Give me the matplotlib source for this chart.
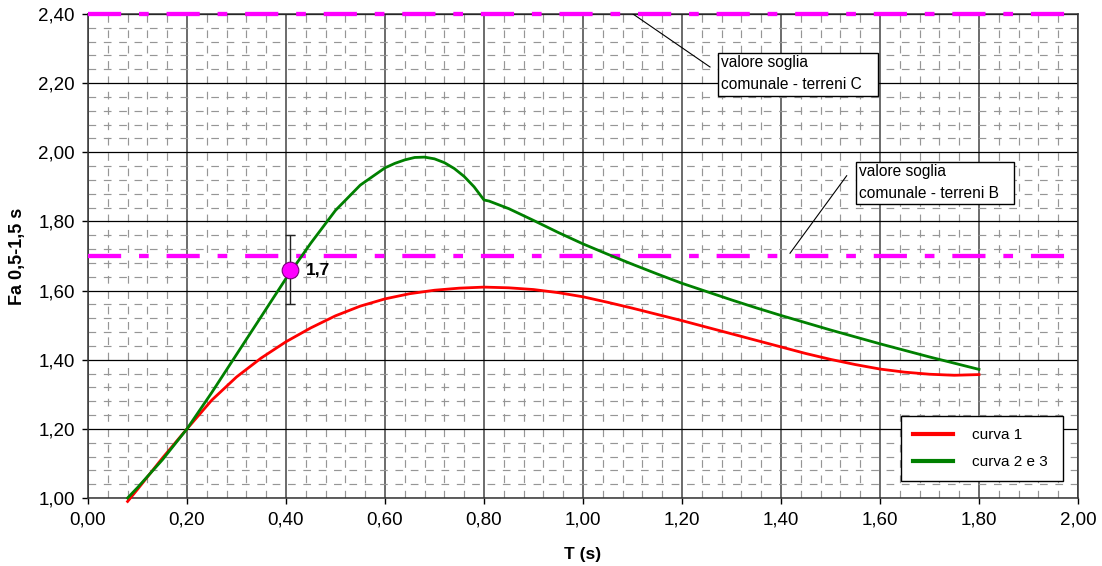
import numpy as np
import matplotlib
matplotlib.use("Agg")
import matplotlib.pyplot as plt
from matplotlib.ticker import MultipleLocator, FuncFormatter
from matplotlib.patches import Rectangle

plt.rcParams["font.family"] = ["Liberation Sans", "DejaVu Sans"]

# ── data ─────────────────────────────────────────────────────────────────────
T_RED = [0.08, 0.10, 0.15, 0.20, 0.25, 0.30, 0.35, 0.40, 0.45, 0.50, 0.55,
         0.60, 0.65, 0.70, 0.75, 0.80, 0.85, 0.90, 0.95, 1.00, 1.05, 1.10,
         1.15, 1.20, 1.25, 1.30, 1.35, 1.40, 1.45, 1.50, 1.55, 1.60, 1.65,
         1.70, 1.75, 1.80]
FA_RED = [0.99, 1.025, 1.115, 1.20, 1.283, 1.350, 1.405, 1.452, 1.492, 1.527,
          1.555, 1.576, 1.591, 1.601, 1.607, 1.610, 1.608, 1.603, 1.594,
          1.582, 1.566, 1.549, 1.531, 1.513, 1.494, 1.475, 1.456, 1.437,
          1.418, 1.401, 1.386, 1.373, 1.364, 1.358, 1.355, 1.357]

T_GREEN = [0.08, 0.10, 0.15, 0.20, 0.25, 0.30, 0.35, 0.40, 0.45, 0.50, 0.55,
           0.60, 0.62, 0.64, 0.66, 0.68, 0.70, 0.72, 0.74, 0.76, 0.78, 0.80,
           0.81, 0.85, 0.90, 0.95, 1.00, 1.05, 1.10, 1.15, 1.20, 1.25, 1.30,
           1.35, 1.40, 1.45, 1.50, 1.55, 1.60, 1.65, 1.70, 1.75, 1.80]
FA_GREEN = [1.00, 1.03, 1.11, 1.20, 1.305, 1.415, 1.525, 1.635, 1.737, 1.832,
            1.905, 1.955, 1.968, 1.978, 1.985, 1.986, 1.981, 1.970, 1.953,
            1.930, 1.900, 1.862, 1.859, 1.837, 1.803, 1.768, 1.735, 1.705,
            1.676, 1.648, 1.621, 1.597, 1.573, 1.550, 1.528, 1.507, 1.486,
            1.466, 1.446, 1.427, 1.408, 1.390, 1.372]

THRESH_C = 2.40
THRESH_B = 1.70
POINT_T, POINT_FA, POINT_ERR = 0.408, 1.66, 0.10
POINT_LABEL = "1,7"

LEGEND_LABELS = ["curva 1", "curva 2 e 3"]
NOTE_C = "valore soglia\ncomunale - terreni C"
NOTE_B = "valore soglia\ncomunale - terreni B"

# ── style ────────────────────────────────────────────────────────────────────
RED = "#FF0000"
GREEN = "#008000"
MAGENTA = "#FF00FF"
DASHDOT = (7.7, 4.15, 2.25, 4.15)

fig = plt.figure(figsize=(11.02, 5.66), dpi=100)
ax = fig.add_axes([88 / 1102, 1 - 498 / 566, 990 / 1102, 484 / 566])

ax.set_xlim(0, 2.0)
ax.set_ylim(1.0, 2.4)

# grid
ax.xaxis.set_major_locator(MultipleLocator(0.2))
ax.yaxis.set_major_locator(MultipleLocator(0.2))
ax.xaxis.set_minor_locator(MultipleLocator(0.04))
ax.yaxis.set_minor_locator(MultipleLocator(0.04))
ax.grid(which="minor", color="#969696", lw=0.85, ls=(0, (6.5, 6.5)), zorder=0)
ax.grid(which="major", axis="x", color="#444444", lw=1.1, zorder=1)
ax.grid(which="major", axis="y", color="black", lw=0.9, zorder=1)
ax.set_axisbelow(True)

comma = FuncFormatter(lambda v, _: f"{v:.2f}".replace(".", ","))
ax.xaxis.set_major_formatter(comma)
ax.yaxis.set_major_formatter(comma)
ax.tick_params(which="major", direction="out", length=4.5, width=1,
               labelsize=13.5, pad=5)
ax.tick_params(which="minor", length=0)
for s in ax.spines.values():
    s.set_color("#333333")
    s.set_linewidth(1.1)

# threshold lines
ax.axhline(THRESH_C, color=MAGENTA, lw=3.1, dashes=DASHDOT, clip_on=False, zorder=3)
ax.axhline(THRESH_B, color=MAGENTA, lw=3.1, dashes=DASHDOT, zorder=3)

# curves
ax.plot(T_RED, FA_RED, color=RED, lw=2.0, label=LEGEND_LABELS[0],
        clip_on=False, zorder=4)
ax.plot(T_GREEN, FA_GREEN, color=GREEN, lw=2.0, label=LEGEND_LABELS[1],
        clip_on=False, zorder=5)

# point with error bar
ax.errorbar(POINT_T, POINT_FA, yerr=POINT_ERR, fmt="none", ecolor="#222222",
            elinewidth=1.0, capsize=3.5, capthick=1.0, zorder=6)
ax.plot(POINT_T, POINT_FA, "o", ms=12, mfc=MAGENTA, mec="#7a007a", mew=0.8, zorder=7)
ax.text(POINT_T + 0.032, POINT_FA, POINT_LABEL, fontsize=12.5, fontweight="bold",
        ha="left", va="center", zorder=7)

# threshold notes with leader lines
ax.plot([1.101, 1.2566], [THRESH_C, 2.2467], color="black", lw=0.8, zorder=6)
ax.add_patch(Rectangle((1.2727, 2.1628), 1.5960 - 1.2727, 2.2872 - 2.1628,
                       fc="white", ec="black", lw=1.0, zorder=6))
ax.text(1.2788, 2.2279, NOTE_C, fontsize=11.2, ha="left", va="center",
        linespacing=1.55, zorder=7)

ax.plot([1.4182, 1.5327], [THRESH_B + 0.008, 1.9322], color="black", lw=0.8, zorder=6)
ax.add_patch(Rectangle((1.5515, 1.8504), 1.8707 - 1.5515, 1.9719 - 1.8504,
                       fc="white", ec="black", lw=1.0, zorder=6))
ax.text(1.5576, 1.912, NOTE_B, fontsize=11.2, ha="left", va="center",
        linespacing=1.55, zorder=7)

# legend
leg = ax.legend(loc="lower left", bbox_to_anchor=(0.821, 0.0345, 0.164, 0.139),
                mode="expand", borderaxespad=0, fontsize=11, handlelength=2.6,
                handletextpad=1.25, labelspacing=0.85, borderpad=0.8,
                fancybox=False, framealpha=1, edgecolor="black")
leg.get_frame().set_linewidth(1.0)
for line in leg.get_lines():
    line.set_linewidth(3)
leg.set_zorder(8)

# axis labels
ax.set_xlabel("T (s)", fontsize=12.5, fontweight="bold", va="center")
ax.xaxis.set_label_coords(0.5, -(555 - 498) / 484)
ax.set_ylabel("Fa 0,5-1,5 s", fontsize=13, fontweight="bold", va="center")
ax.yaxis.set_label_coords(-(88 - 18) / 990, 0.5)

fig.savefig("out.png", dpi=100, facecolor="white")
